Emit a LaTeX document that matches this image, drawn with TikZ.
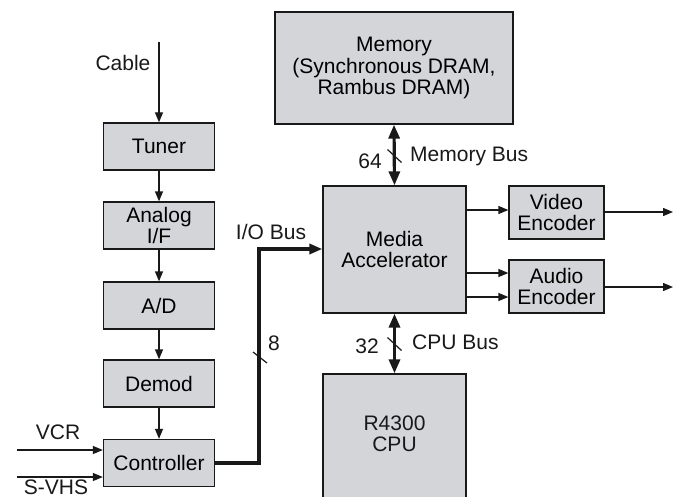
\documentclass[tikz,border=0pt]{standalone}
\usepackage{fontspec}
\setmainfont{Liberation Sans}
\usetikzlibrary{arrows.meta}
\definecolor{boxfill}{RGB}{212,213,216}
\definecolor{ink}{RGB}{25,25,25}
\tikzset{
  box/.style={draw=ink, line width=1.3pt, fill=boxfill, inner sep=0pt, align=center, font=\fontsize{21}{21.5}\selectfont},
  lbox/.style={box, minimum width=111pt, minimum height=47pt},
  arr/.style={draw=ink, line width=1.3pt, -{Triangle[length=10pt,width=8pt]}},
  bus/.style={draw=ink, line width=3.2pt, -{Triangle[length=13pt,width=10pt]}},
  dbus/.style={draw=ink, line width=3.2pt, {Triangle[length=14pt,width=11pt]}-{Triangle[length=14pt,width=11pt]}},
  slash/.style={draw=ink, line width=1.2pt},
  lbl/.style={inner sep=0pt, text=ink, font=\fontsize{21}{21.5}\selectfont}
}
\begin{document}
\begin{tikzpicture}[x=1pt,y=-1pt]
\clip (0,0) rectangle (679,497);
\fill[white] (0,0) rectangle (679,497);
% left column
\node[lbox] (tuner) at (159,146.5) {Tuner};
\node[lbox] (aif) at (159,225.5) {Analog\\I/F};
\node[lbox] (ad) at (159,305.5) {A/D};
\node[lbox] (demod) at (159,383.5) {Demod};
\node[lbox] (ctrl) at (159,463) {Controller};
% right part
\node[box, minimum width=238pt, minimum height=112pt] (mem) at (394,68) {Memory\\(Synchronous DRAM,\\Rambus DRAM)};
\node[box, minimum width=143pt, minimum height=127pt] (ma) at (394.5,249.5) {Media\\Accelerator};
\node[box, minimum width=143pt, minimum height=132pt] (cpu) at (394.5,440) {};
\node[lbl, align=center] (cputxt) at (394.5,434) {R4300\\CPU};
\node[box, minimum width=95pt, minimum height=53pt] (venc) at (556.5,212.5) {Video\\Encoder};
\node[box, minimum width=95pt, minimum height=53pt] (aenc) at (556.5,286.5) {Audio\\Encoder};
% inputs
\coordinate (cablein) at (159,42);
\node[lbl] (cable) at (123,63) {Cable};
\draw[arr] (cablein) -- (tuner.north);
\draw[arr] (tuner.south) -- (aif.north);
\draw[arr] (aif.south) -- (ad.north);
\draw[arr] (ad.south) -- (demod.north);
\draw[arr] (demod.south) -- (ctrl.north);
\coordinate (vcrin) at (17,450);
\coordinate (svhsin) at (17,477);
\node[lbl] (vcr) at (58,432) {VCR};
\node[lbl] (svhs) at (56,487.5) {S-VHS};
\draw[arr] (vcrin) -- (ctrl.west |- vcrin);
\draw[arr] (svhsin) -- (ctrl.west |- svhsin);
% I/O bus
\coordinate (io1) at (259,463);
\coordinate (io2) at (259,249);
\draw[bus] (ctrl.east |- io1) -- (io1) -- (io2) -- (ma.west |- io2);
\node[lbl] (iobus) at (271,232) {I/O Bus};
\node[lbl] (eight) at (274,343) {8};
\coordinate (ios) at (260,357.5);
\draw[slash] ([shift={(-7,-5.5)}]ios) -- ([shift={(7,5.5)}]ios);
% memory bus
\draw[dbus] (mem.south) -- (ma.north);
\coordinate (mems) at (394.5,156);
\draw[slash] ([shift={(-7,-6.5)}]mems) -- ([shift={(7,6.5)}]mems);
\node[lbl] (sixtyfour) at (370,161) {64};
\node[lbl, anchor=west] (membus) at (410,156) {Memory Bus};
% cpu bus
\draw[dbus] (ma.south) -- (cpu.north);
\coordinate (cpus) at (394.5,344);
\draw[slash] ([shift={(-7,-6.5)}]cpus) -- ([shift={(7,6.5)}]cpus);
\node[lbl] (thirtytwo) at (367,346) {32};
\node[lbl, anchor=west] (cpubus) at (412,342) {CPU Bus};
% outputs
\coordinate (v1) at (466,210);
\coordinate (a1) at (466,273);
\coordinate (a2) at (466,297);
\draw[arr] (ma.east |- v1) -- (venc.west |- v1);
\draw[arr] (ma.east |- a1) -- (aenc.west |- a1);
\draw[arr] (ma.east |- a2) -- (aenc.west |- a2);
\coordinate (vout) at (673,212);
\coordinate (aout) at (673,287);
\draw[arr] (venc.east |- vout) -- (vout);
\draw[arr] (aenc.east |- aout) -- (aout);
\end{tikzpicture}
\end{document}
